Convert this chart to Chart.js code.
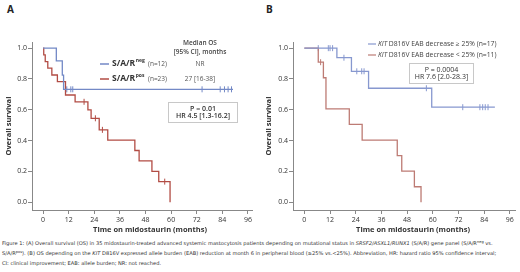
<!DOCTYPE html>
<html>
<head>
<meta charset="utf-8">
<script src="https://cdn.jsdelivr.net/npm/chart.js@4.4.1/dist/chart.umd.min.js"></script>
<style>
body { margin: 0; background: #fff; width: 520px; height: 272px; overflow: hidden; position: relative; font-family: "Open Sans", sans-serif; }
canvas { position: absolute; top: 0; }
.panel { position: absolute; font-weight: bold; font-size: 10px; color: #222; }
.cap { position: absolute; left: 2px; font-family: "DejaVu Sans", sans-serif; font-size: 4.7px; white-space: nowrap; color: #333; line-height: 1; }
.cap sup { font-size: 70%; vertical-align: 0; position: relative; top: -0.5em; }
</style>
</head>
<body>
<div class="panel" style="left:7px;top:2px">A</div>
<div class="panel" style="left:266px;top:2px">B</div>
<canvas id="chartA" width="260" height="240" style="left:0"></canvas>
<canvas id="chartB" width="260" height="240" style="left:260px"></canvas>
<div class="cap" id="cap1" style="top:241px">Figure 1: (A) Overall survival (OS) in 35 midostaurin-treated advanced systemic mastocytosis patients depending on mutational status in <i>SRSF2/ASXL1/RUNX1</i> (S/A/R) gene panel (S/A/R<sup>neg</sup> vs.</div>
<div class="cap" style="top:251px">S/A/R<sup>pos</sup>). (B) OS depending on the <i>KIT</i> D816V expressed allele burden (EAB) reduction at month 6 in peripheral blood (≥25% vs.&lt;25%). Abbreviation, HR: hazard ratio 95% confidence interval;</div>
<div class="cap" style="top:260.5px">CI: clinical improvement; EAB: allele burden; NR: not reached.</div>
<script>
// ejes
const xTicks = [0, 12, 24, 36, 48, 60, 72, 84, 96];
const yTicks = [0, 0.2, 0.4, 0.6, 0.8, 1.0];

// Painel A: S/A/R negativo / positivo
const negTimes = [0, 6.2, 9.0, 9.6, 89];
const negSurv = [1, 0.917, 0.825, 0.733, 0.733];
const negCensor = [11.1, 13.0, 13.9, 74.5, 83, 85, 86.7, 88.3];

const posTimes = [0, 0.3, 1, 2.2, 4.1, 6.7, 10.5, 15, 21, 22.5, 26.3, 30.3, 43, 45, 51, 54.2, 59.5];
const posSurv = [1, 0.957, 0.913, 0.870, 0.826, 0.783, 0.696, 0.652, 0.600, 0.545, 0.470, 0.403, 0.336, 0.269, 0.201, 0.134, 0];
const posCensor = [19.2, 24.5, 27.8, 57];

const legendA = ['S/A/R', 'S/A/R'];
const legendSupA = ['neg', 'pos'];
const legendNA = ['(n=12)', '(n=23)'];
const medianA = ['NR', '27 [16-38]'];

// Painel B: KIT D816V EAB
const hiTimes = [0, 15.2, 22, 30, 59.5, 89];
const hiSurv = [1, 0.938, 0.85, 0.74, 0.617, 0.617];
const hiCensor = [6.5, 11.2, 12, 13.2, 18.5, 24.5, 26.8, 27.9, 57, 74, 82, 83.3, 84.5, 85.8];

const loTimes = [0, 6.5, 8.9, 10.1, 21, 27, 43.4, 45.5, 51.4, 54.5];
const loSurv = [1, 0.909, 0.808, 0.606, 0.505, 0.404, 0.303, 0.202, 0.101, 0];
const loCensor = [7.6];

const legendB = ['D816V EAB decrease ≥ 25% (n=17)', 'D816V EAB decrease < 25% (n=11)'];

const FONT = '"Open Sans", sans-serif';

function steps(times, surv) {
    return times.map((t, i) => ({ x: t, y: surv[i] }));
}

// valor da curva no tempo t
function survAt(times, surv, t) {
    let s = surv[0];
    times.forEach((tt, i) => { if (tt <= t) s = surv[i]; });
    return s;
}

function censorPts(times, surv, cens) {
    return cens.map(t => ({ x: t, y: survAt(times, surv, t) }));
}

function curve(times, surv, color) {
    return {
        data: steps(times, surv), showLine: true, stepped: 'before',
        borderColor: color, borderWidth: 1.3, pointRadius: 0, fill: false
    };
}

function ticksSet(times, surv, cens, color) {
    return {
        data: censorPts(times, surv, cens), showLine: false,
        pointStyle: 'line', rotation: 90, pointRadius: 3,
        borderColor: color, borderWidth: 1, backgroundColor: color
    };
}

function drawBox(ctx, x0, y0, x1, y1, lines, weight) {
    ctx.strokeStyle = '#c8c8c8';
    ctx.lineWidth = 1;
    ctx.strokeRect(x0 + 0.5, y0 + 0.5, x1 - x0, y1 - y0);
    ctx.fillStyle = '#333';
    ctx.textAlign = 'center';
    ctx.textBaseline = 'middle';
    ctx.font = `${weight} 7px ${FONT}`;
    const cx = (x0 + x1) / 2;
    const h = (y1 - y0) / (lines.length + 1);
    lines.forEach((l, i) => ctx.fillText(l, cx + 0.5, y0 + h * (i + 1) + 0.5));
}

function drawXTitle(ctx, x, y) {
    ctx.fillStyle = '#333';
    ctx.textAlign = 'center';
    ctx.textBaseline = 'middle';
    ctx.font = `bold 7.5px ${FONT}`;
    ctx.fillText('Time on midostaurin (months)', x, y);
}

function overlayA(chart) {
    const ctx = chart.ctx;
    ctx.save();
    ctx.fillStyle = '#444';
    ctx.textAlign = 'center';
    ctx.textBaseline = 'middle';
    ctx.font = `600 6.5px ${FONT}`;
    ctx.fillText('Median OS', 200, 43);
    ctx.fillText('[95% CI], months', 200, 52);

    const colors = ['#7389c6', '#b24c44'];
    const rowY = [64, 79];
    rowY.forEach((y, i) => {
        ctx.strokeStyle = colors[i];
        ctx.lineWidth = 1.5;
        ctx.beginPath();
        ctx.moveTo(100, y); ctx.lineTo(109, y);
        ctx.stroke();
        ctx.textAlign = 'left';
        ctx.fillStyle = '#333';
        ctx.font = `bold 8.5px ${FONT}`;
        ctx.fillText(legendA[i], 112, y);
        const w = ctx.measureText(legendA[i]).width;
        ctx.font = `bold 5px ${FONT}`;
        ctx.fillText(legendSupA[i], 112 + w + 0.5, y - 3);
        ctx.fillStyle = '#555';
        ctx.font = `6.5px ${FONT}`;
        ctx.fillText(legendNA[i], 148, y);
        ctx.textAlign = 'center';
        ctx.fillText(medianA[i], 200, y);
    });

    drawBox(ctx, 168, 102, 237, 122, ['P = 0.01', 'HR 4.5 [1.3-16.2]'], 600);
    drawXTitle(ctx, 150, 230);
    ctx.restore();
}

function overlayB(chart) {
    const ctx = chart.ctx;
    ctx.save();
    const colors = ['#8798cf', '#bd7b74'];
    const rowY = [44, 55];
    rowY.forEach((y, i) => {
        ctx.strokeStyle = colors[i];
        ctx.lineWidth = 1.2;
        ctx.beginPath();
        ctx.moveTo(108, y); ctx.lineTo(116, y);
        ctx.stroke();
        ctx.textAlign = 'left';
        ctx.textBaseline = 'middle';
        ctx.fillStyle = '#444';
        ctx.font = `italic 6.8px ${FONT}`;
        ctx.fillText('KIT', 118, y);
        const w = ctx.measureText('KIT ').width;
        ctx.font = `6.8px ${FONT}`;
        ctx.fillText(legendB[i], 118 + w, y);
    });
    drawBox(ctx, 149, 63, 213, 83, ['P = 0.0004', 'HR 7.6 [2.0-28.3]'], 400);
    drawXTitle(ctx, 153, 230);
    ctx.restore();
}

function kmChart(id, cfg) {
    const ctx = document.getElementById(id).getContext('2d');
    return new Chart(ctx, {
        type: 'scatter',
        data: { datasets: cfg.datasets },
        options: {
            responsive: false,
            animation: false,
            layout: { padding: { top: 42, right: cfg.padRight, left: 0, bottom: 0 } },
            scales: {
                x: {
                    type: 'linear', min: cfg.xMin, max: cfg.xMax,
                    afterBuildTicks: s => { s.ticks = xTicks.map(v => ({ value: v })); },
                    afterFit: s => { s.height = 30; },
                    grid: { display: true, drawOnChartArea: false, drawTicks: true, tickLength: 4, color: '#888' },
                    border: { display: true, color: '#888', width: 1 },
                    ticks: { padding: 2, color: '#333', autoSkip: false, maxRotation: 0, font: { family: FONT, size: 7 } }
                },
                y: {
                    type: 'linear', min: -0.05, max: 1.04,
                    afterBuildTicks: s => { s.ticks = yTicks.map(v => ({ value: v })); },
                    afterFit: s => { s.width = cfg.axisW; },
                    grid: { display: true, drawOnChartArea: false, drawTicks: true, tickLength: 4, color: '#888' },
                    border: { display: true, color: '#888', width: 1 },
                    ticks: { padding: 1, color: '#333', callback: v => v.toFixed(1), font: { family: FONT, size: 7 } },
                    title: {
                        display: true, text: 'Overall survival', color: '#333',
                        font: { family: FONT, size: 7.5, weight: 'bold' }, padding: { top: 4, bottom: 0 }
                    }
                }
            },
            plugins: { legend: { display: false }, tooltip: { enabled: false } }
        },
        plugins: [{ id: id + 'Overlay', afterDraw: cfg.overlay }]
    });
}

kmChart('chartA', {
    xMin: -5.2, xMax: 97.9, axisW: 32, padRight: 8, overlay: overlayA,
    datasets: [
        curve(negTimes, negSurv, '#7389c6'),
        curve(posTimes, posSurv, '#b24c44'),
        ticksSet(negTimes, negSurv, negCensor, '#7389c6'),
        ticksSet(posTimes, posSurv, posCensor, '#b24c44')
    ]
});

kmChart('chartB', {
    xMin: -5.3, xMax: 98.4, axisW: 33, padRight: 5, overlay: overlayB,
    datasets: [
        curve(hiTimes, hiSurv, '#8798cf'),
        curve(loTimes, loSurv, '#bd7b74'),
        ticksSet(hiTimes, hiSurv, hiCensor, '#8798cf'),
        ticksSet(loTimes, loSurv, loCensor, '#bd7b74')
    ]
});

// ajusta a legenda da figura à largura da imagem
const cap1 = document.getElementById('cap1');
const ratio = 491 / cap1.scrollWidth;
const size = 4.7 * ratio;
document.querySelectorAll('.cap').forEach(el => { el.style.fontSize = size + 'px'; });
</script>
</body>
</html>
